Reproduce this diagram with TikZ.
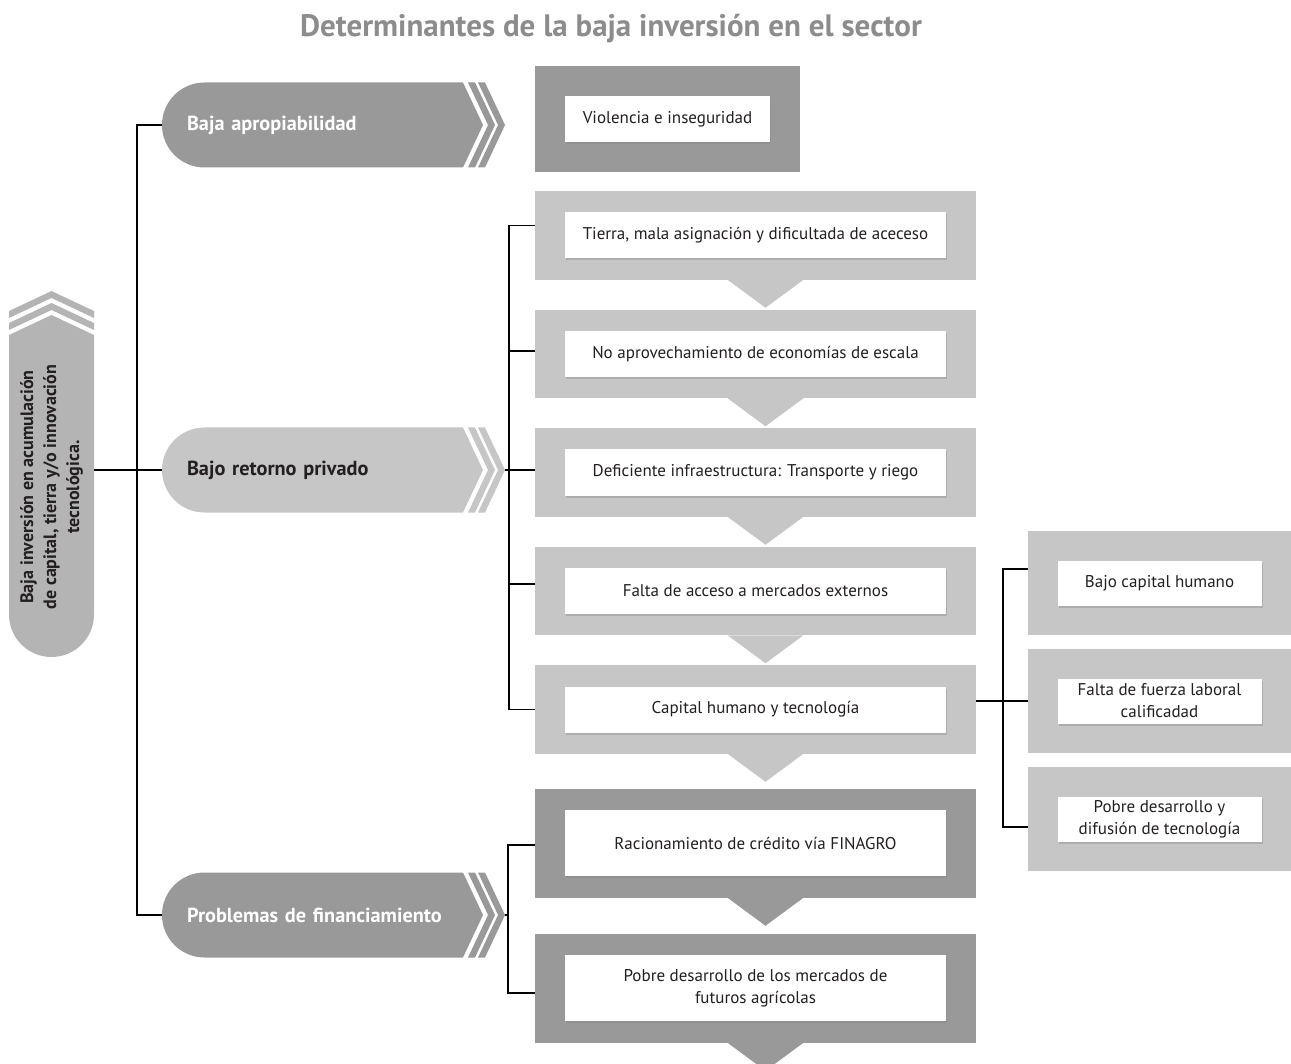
\documentclass[tikz,border=0pt]{standalone}
\usepackage{fontspec}
\setmainfont{PT Sans}
\usetikzlibrary{positioning,shadows}

\definecolor{darkbox}{RGB}{153,153,153}
\definecolor{lightbox}{RGB}{198,198,198}
\definecolor{rootgray}{RGB}{180,180,180}
\definecolor{titlegray}{RGB}{140,140,140}
\definecolor{ink}{RGB}{35,31,32}

\newcommand{\pillarrow}[3]{%
  \begin{scope}[shift={(#2,#3)}]
    \fill[#1] (301,-42.5) -- (42.5,-42.5) arc[start angle=90,end angle=270,radius=42.5pt] -- (301,42.5) -- (321,0) -- cycle;
    \fill[#1] (306,-42.5) -- (313,-42.5) -- (333,0) -- (313,42.5) -- (306,42.5) -- (326,0) -- cycle;
    \fill[#1] (316,-42.5) -- (323,-42.5) -- (343,0) -- (323,42.5) -- (316,42.5) -- (336,0) -- cycle;
  \end{scope}}

\begin{document}
\begin{tikzpicture}[x=1pt,y=-1pt,node distance=30pt,
	lbox/.style={fill=lightbox,minimum width=441pt,minimum height=88.5pt,inner sep=0pt,outer sep=0pt},
	dbox/.style={fill=darkbox,minimum width=441pt,minimum height=109pt,inner sep=0pt,outer sep=0pt},
	wbox/.style={fill=white,text=ink,minimum width=381pt,minimum height=46pt,inner sep=2pt,outer sep=0pt,align=center,
		font=\fontsize{17}{22}\selectfont,drop shadow={shadow xshift=1pt,shadow yshift=-2pt,opacity=0.35}},
	pill/.style={anchor=west,minimum height=85pt,text width=293pt,inner xsep=25pt,outer sep=0pt,align=left,
		font=\bfseries\fontsize{20.3}{24}\selectfont},
	conn/.style={draw=black,line width=1.7pt}]

\useasboundingbox (0,0) rectangle (1291,1064);

\node[text=titlegray,font=\bfseries\fontsize{31}{36}\selectfont] (title) at (611,29) {Determinantes de la baja inversión en el sector};

\fill[rootgray] (9,335) -- (51.5,315) -- (94,335) -- (94,614.5) arc[start angle=0,end angle=-180,radius=42.5pt] -- cycle;
\fill[rootgray] (9,330) -- (51.5,310) -- (94,330) -- (94,323) -- (51.5,303) -- (9,323) -- cycle;
\fill[rootgray] (9,318) -- (51.5,298) -- (94,318) -- (94,311) -- (51.5,291) -- (9,311) -- cycle;
\node[rotate=90,minimum width=322pt,minimum height=85pt,outer sep=0pt,align=center,text=ink,
	font=\bfseries\fontsize{18}{23}\selectfont] (root) at (51.5,487)
	{Baja inversión en acumulación\\de capital, tierra y/o innovación\\tecnológica.};

\pillarrow{darkbox}{162}{125}
\pillarrow{lightbox}{162}{470}
\pillarrow{darkbox}{162}{915}
\node[pill,text=white] (p1) at (162,125) {Baja apropiabilidad};
\node[pill,text=ink]   (p2) at (162,470) {Bajo retorno privado};
\node[pill,text=white] (p3) at (162,915) {Problemas de financiamiento};

\node[dbox,minimum width=265pt,minimum height=106pt] (v) at (667.5,119) {};
\node[wbox,minimum width=205pt] (vt) at (v) {Violencia e inseguridad};

\node[lbox] (g1) at (755.5,235.5) {};
\node[lbox,below=30pt of g1] (g2) {};
\node[lbox,below=30pt of g2] (g3) {};
\node[lbox,below=30pt of g3] (g4) {};
\node[lbox,below=30pt of g4] (g5) {};
\fill[lightbox] ([xshift=-28pt]g1.south) -- ([xshift=48pt]g1.south) -- ([xshift=10pt,yshift=-28pt]g1.south) -- cycle;
\fill[lightbox] ([xshift=-28pt]g2.south) -- ([xshift=48pt]g2.south) -- ([xshift=10pt,yshift=-28pt]g2.south) -- cycle;
\fill[lightbox] ([xshift=-28pt]g3.south) -- ([xshift=48pt]g3.south) -- ([xshift=10pt,yshift=-28pt]g3.south) -- cycle;
\fill[lightbox] ([xshift=-28pt]g4.south) -- ([xshift=48pt]g4.south) -- ([xshift=10pt,yshift=-28pt]g4.south) -- cycle;
\fill[lightbox] ([xshift=-28pt]g5.south) -- ([xshift=48pt]g5.south) -- ([xshift=10pt,yshift=-28pt]g5.south) -- cycle;
\node[wbox] (t1) at (g1) {Tierra, mala asignación y dificultada de aceceso};
\node[wbox] (t2) at (g2) {No aprovechamiento de economías de escala};
\node[wbox] (t3) at (g3) {Deficiente infraestructura: Transporte y riego};
\node[wbox] (t4) at (g4) {Falta de acceso a mercados externos};
\node[wbox] (t5) at (g5) {Capital humano y tecnología};

\node[dbox,below=35pt of g5] (ga) {};
\node[dbox,below=36pt of ga] (gb) {};
\fill[darkbox] ([xshift=-28pt]ga.south) -- ([xshift=48pt]ga.south) -- ([xshift=10pt,yshift=-28pt]ga.south) -- cycle;
\fill[darkbox] ([xshift=-28pt]gb.south) -- ([xshift=48pt]gb.south) -- ([xshift=10pt,yshift=-28pt]gb.south) -- cycle;
\node[wbox,minimum height=66pt] (ta) at (ga) {Racionamiento de crédito vía FINAGRO};
\node[wbox,minimum height=66pt] (tb) at (gb) {Pobre desarrollo de los mercados de\\futuros agrícolas};

\node[lbox,minimum width=263pt,minimum height=104pt] (r1) at (1159.5,583) {};
\node[lbox,minimum width=263pt,minimum height=104pt,below=14pt of r1] (r2) {};
\node[lbox,minimum width=263pt,minimum height=104pt,below=14pt of r2] (r3) {};
\node[wbox,minimum width=204pt,minimum height=45pt] (s1) at (r1) {Bajo capital humano};
\node[wbox,minimum width=204pt,minimum height=45pt] (s2) at (r2) {Falta de fuerza laboral\\calificadad};
\node[wbox,minimum width=204pt,minimum height=45pt] (s3) at (r3) {Pobre desarrollo y\\difusión de tecnología};

\draw[conn] (p1.west) -- ++(-25,0) |- (p3.west);
\draw[conn] (root.south |- p2.west) -- (p2.west);

\draw[conn] ([yshift=10pt]g1.west) -- ++(-26,0) coordinate (bus) |- (g5.west);
\draw[conn] ([yshift=3pt]g2.west) -- ++(-26,0);
\draw[conn] (p2.east) -- (p2.east -| g3.west);
\draw[conn] ([yshift=7pt]g4.west) -- ++(-26,0);

\draw[conn] ([yshift=-2pt]ga.west) -- ++(-27,0) coordinate (fbus) |- ([yshift=-5pt]gb.west);
\draw[conn] (p3.east) -- (p3.east -| fbus);

\draw[conn] ([yshift=14pt]r1.west) -- ++(-25,0) |- ([yshift=-8pt]r3.west);
\draw[conn] (g5.east |- r2.west) -- (r2.west);
\end{tikzpicture}
\end{document}
